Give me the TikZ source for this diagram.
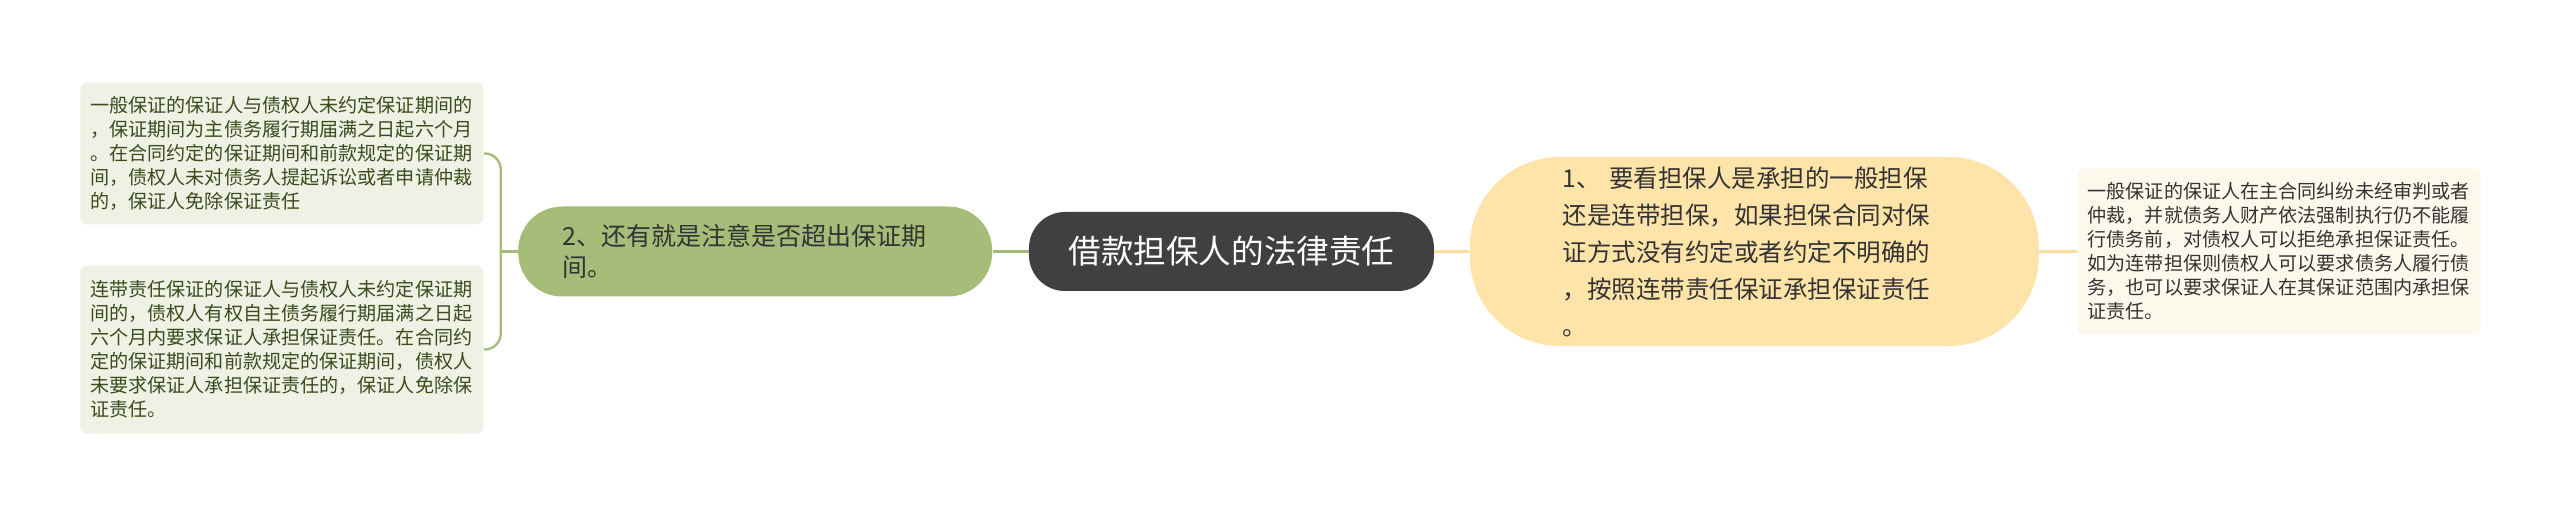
\documentclass[tikz,border=0pt]{standalone}
\usepackage{fontspec}
\setmainfont{Noto Sans CJK SC}
\usepackage{xcolor}
\usetikzlibrary{positioning}

\definecolor{leafgreen}{HTML}{EEF1E4}
\definecolor{olivetext}{HTML}{3C4A1C}
\definecolor{branchgreen}{HTML}{A5BD78}
\definecolor{rootgray}{HTML}{404040}
\definecolor{branchorange}{HTML}{FEE4A8}
\definecolor{lineorange}{HTML}{FBDDA0}
\definecolor{leafcream}{HTML}{FDF8EC}
\definecolor{darktext}{HTML}{333333}

\begin{document}
\begin{tikzpicture}[leafbox/.style={rounded corners=3.5pt, align=left, inner xsep=5pt, inner ysep=0pt,
        text width=191.5pt, font=\fontsize{9.55pt}{12pt}\selectfont},
      greenline/.style={branchgreen, line width=1.2pt},
      orangeline/.style={lineorange, line width=1.5pt}]
      \useasboundingbox (-615.75pt,-131.25pt) rectangle (664.25pt,125.75pt);
      \node[fill=rootgray, text=white, rounded corners=18pt, minimum width=202.5pt, minimum height=39.5pt,
            font=\fontsize{16.3pt}{20pt}\selectfont] (root) {借款担保人的法律责任};
      \node[fill=branchgreen, text=darktext, rounded corners=22pt, minimum height=45pt, text width=193pt,
            inner xsep=22pt, align=left, font=\fontsize{12.5pt}{15.5pt}\selectfont, left=18pt of root] (part2)
            {2、还有就是注意是否超出保证期\\间。};
      \node[fill=branchorange, text=darktext, rounded corners=45pt, minimum height=94.5pt, text width=191.5pt,
            inner xsep=46.5pt, align=left, font=\fontsize{12.25pt}{18.5pt}\selectfont, right=17.5pt of root] (part1)
            {1、 要看担保人是承担的一般担保\\还是连带担保，如果担保合同对保\\证方式没有约定或者约定不明确的\\，按照连带责任保证承担保证责任\\。};
      \node[leafbox, fill=leafcream, text=darktext, minimum height=83pt, right=19pt of part1] (leafc)
            {一般保证的保证人在主合同纠纷未经审判或者\\仲裁，并就债务人财产依法强制执行仍不能履\\行债务前，对债权人可以拒绝承担保证责任。\\如为连带担保则债权人可以要求债务人履行债\\务，也可以要求保证人在其保证范围内承担保\\证责任。};
      \node[leafbox, fill=leafgreen, text=olivetext, minimum height=71pt, left=17pt of part2, yshift=49pt] (leafa)
            {一般保证的保证人与债权人未约定保证期间的\\，保证期间为主债务履行期届满之日起六个月\\。在合同约定的保证期间和前款规定的保证期\\间，债权人未对债务人提起诉讼或者申请仲裁\\的，保证人免除保证责任};
      \node[leafbox, fill=leafgreen, text=olivetext, minimum height=84pt, left=17pt of part2, yshift=-49pt] (leafb)
            {连带责任保证的保证人与债权人未约定保证期\\间的，债权人有权自主债务履行期届满之日起\\六个月内要求保证人承担保证责任。在合同约\\定的保证期间和前款规定的保证期间，债权人\\未要求保证人承担保证责任的，保证人免除保\\证责任。};
      \coordinate[left=8.5pt of part2] (fork);
      \draw[greenline] (part2) -- (root);
      \draw[greenline] (part2) -- (fork);
      \draw[greenline, rounded corners=8pt] (leafa.east) -| (fork) |- (leafb.east);
      \draw[orangeline] (root) -- (part1);
      \draw[orangeline] (part1) -- (leafc);
    \end{tikzpicture}
\end{document}
